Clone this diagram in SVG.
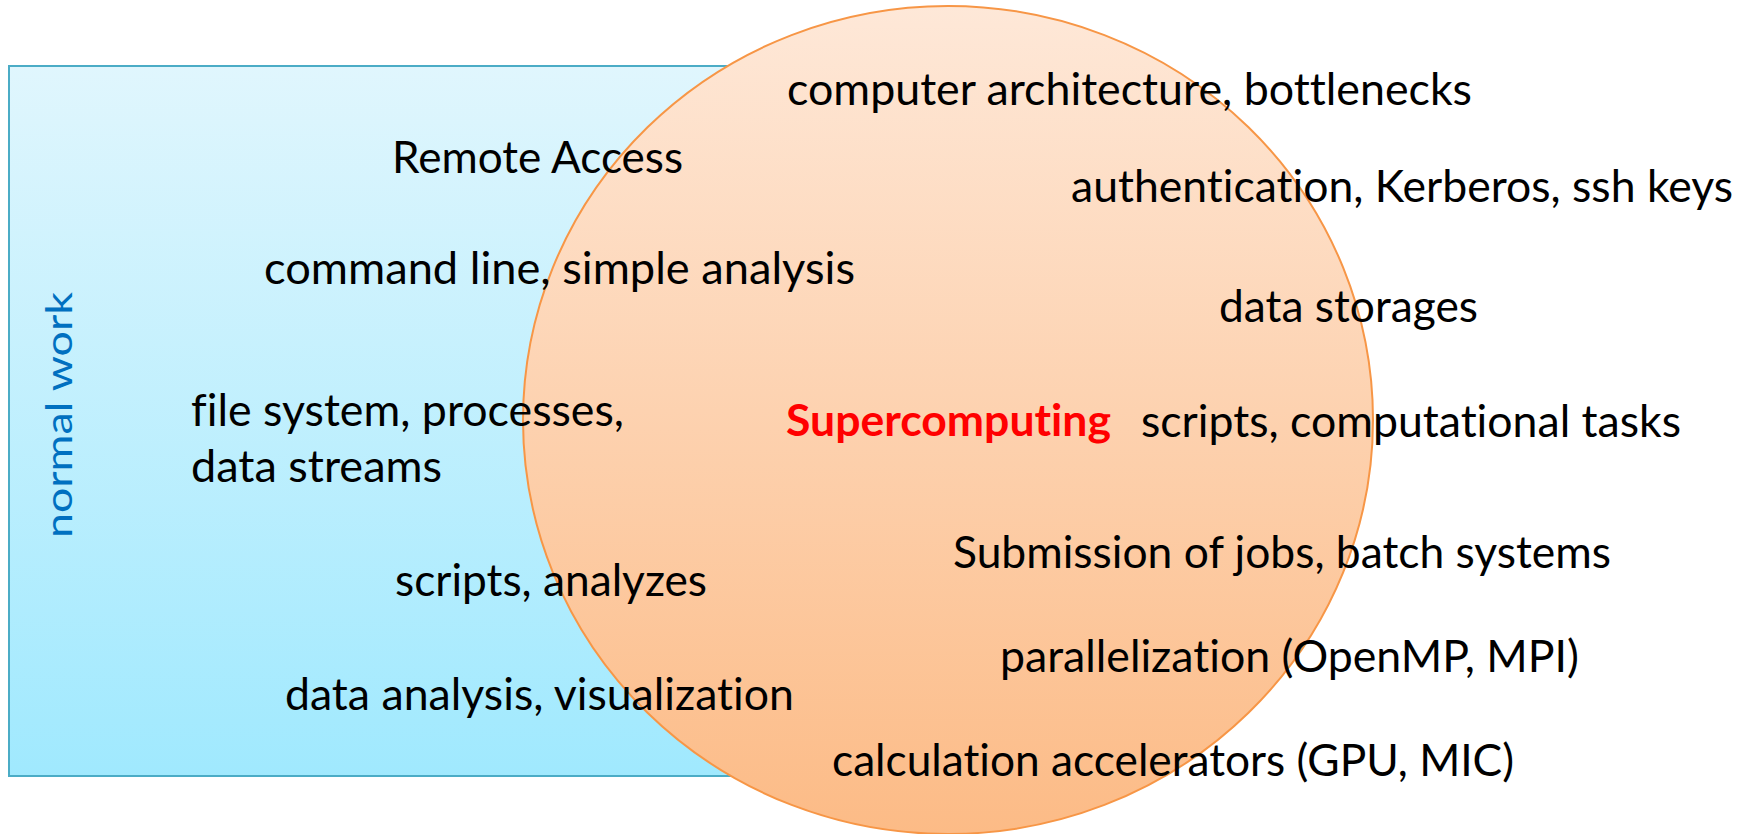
<svg xmlns="http://www.w3.org/2000/svg" width="1746" height="834" viewBox="0 0 1746 834">
  <defs>
    <linearGradient id="gBlue" x1="0" y1="0" x2="0" y2="1">
      <stop offset="0" stop-color="#E0F6FD"/>
      <stop offset="1" stop-color="#A0E9FE"/>
    </linearGradient>
    <linearGradient id="gOrange" x1="0" y1="0" x2="0" y2="1">
      <stop offset="0" stop-color="#FEE8D8"/>
      <stop offset="1" stop-color="#FCBB86"/>
    </linearGradient>
    <style>
      text { font-variant-ligatures: none; font-feature-settings: "liga" 0, "clig" 0; }
      .lbl { font-family: Lato, "Open Sans", "Liberation Sans", sans-serif; font-size: 44px; fill: #000000; }
      .main { font-family: Lato, "Open Sans", "Liberation Sans", sans-serif; font-size: 44px; font-weight: bold; fill: #FF0000; }
      .side { font-family: Lato, "Open Sans", "Liberation Sans", sans-serif; font-size: 37px; fill: #0070C0; }
    </style>
  </defs>
  <rect width="1746" height="834" fill="#FFFFFF"/>

  <!-- everyday work area -->
  <g id="normal-work">
    <rect x="9" y="66" width="751" height="710" fill="url(#gBlue)" stroke="#4BACC6" stroke-width="2"/>
    <text class="side" transform="translate(72,415) rotate(-90)" text-anchor="middle" textLength="246" lengthAdjust="spacingAndGlyphs">normal work</text>
  </g>

  <!-- supercomputing area -->
  <g id="supercomputing">
    <ellipse cx="948" cy="420" rx="425" ry="414" fill="url(#gOrange)" stroke="#F79646" stroke-width="2"/>
    <text class="main" x="786" y="436" textLength="325" lengthAdjust="spacingAndGlyphs">Supercomputing</text>
  </g>

  <!-- topic labels -->
  <g id="labels">
    <text class="lbl" x="392" y="173" textLength="291" lengthAdjust="spacingAndGlyphs">Remote Access</text>
    <text class="lbl" x="264" y="284" textLength="591" lengthAdjust="spacingAndGlyphs">command line, simple analysis</text>
    <text class="lbl" x="191" y="426" textLength="433" lengthAdjust="spacingAndGlyphs">file system, processes,</text>
    <text class="lbl" x="191" y="482" textLength="251" lengthAdjust="spacingAndGlyphs">data streams</text>
    <text class="lbl" x="395" y="596" textLength="312" lengthAdjust="spacingAndGlyphs">scripts, analyzes</text>
    <text class="lbl" x="285" y="710" textLength="509" lengthAdjust="spacingAndGlyphs">data analysis, visualization</text>
    <text class="lbl" x="787" y="105" textLength="685" lengthAdjust="spacingAndGlyphs">computer architecture, bottlenecks</text>
    <text class="lbl" x="1071" y="202" textLength="662" lengthAdjust="spacingAndGlyphs">authentication, Kerberos, ssh keys</text>
    <text class="lbl" x="1219" y="322" textLength="259" lengthAdjust="spacingAndGlyphs">data storages</text>
    <text class="lbl" x="1141" y="437" textLength="540" lengthAdjust="spacingAndGlyphs">scripts, computational tasks</text>
    <text class="lbl" x="953" y="568" textLength="658" lengthAdjust="spacingAndGlyphs">Submission of jobs, batch systems</text>
    <text class="lbl" x="1000" y="672" textLength="579" lengthAdjust="spacingAndGlyphs">parallelization (OpenMP, MPI)</text>
    <text class="lbl" x="832" y="776" textLength="682" lengthAdjust="spacingAndGlyphs">calculation accelerators (GPU, MIC)</text>
  </g>
</svg>
